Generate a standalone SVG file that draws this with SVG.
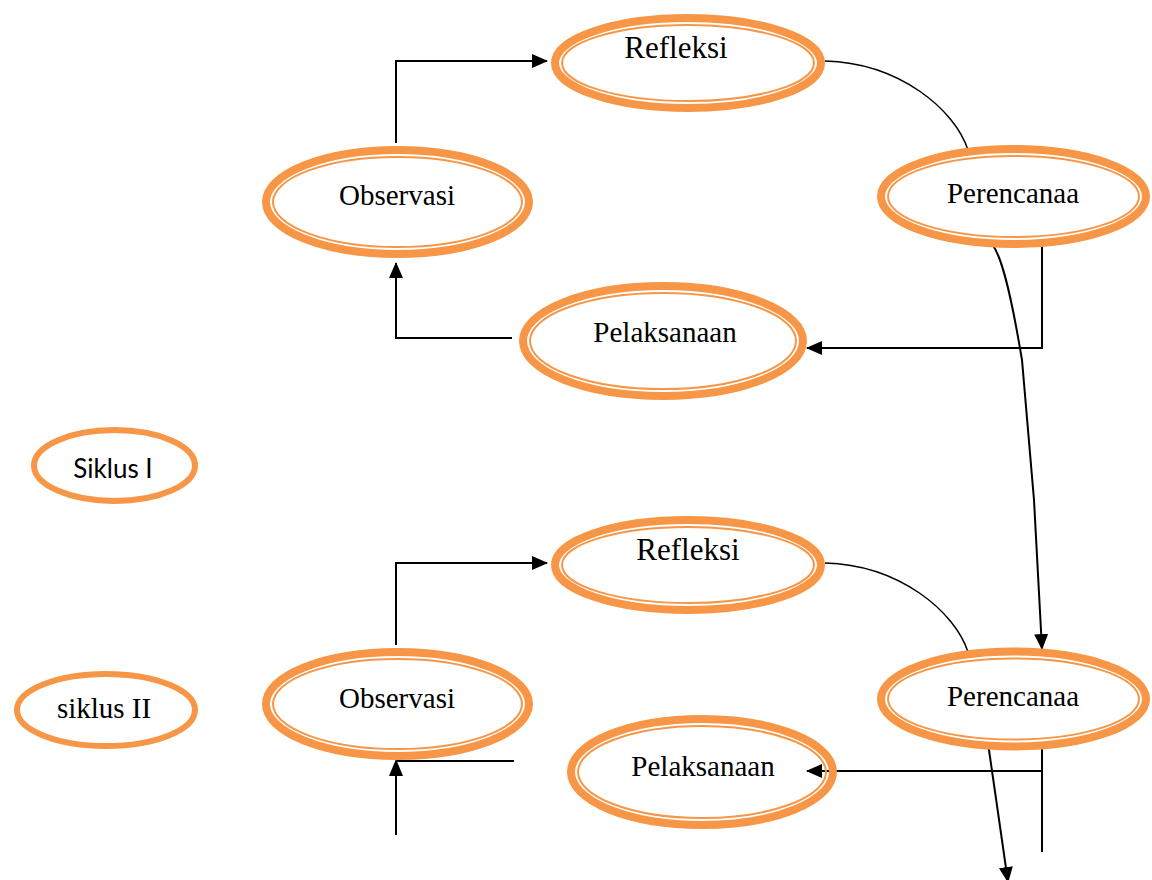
<svg xmlns="http://www.w3.org/2000/svg" width="1152" height="880" viewBox="0 0 1152 880">
<style>
.o{fill:none;stroke:#F79646;stroke-width:8}
.i{fill:none;stroke:#F79646;stroke-width:2}
.s{fill:none;stroke:#F79646;stroke-width:6}
.t{font-family:"Liberation Serif","Times New Roman",serif;font-size:29px;fill:#000;text-anchor:middle}
.r{font-size:31px}
.c{font-family:Lato,"Open Sans",sans-serif;font-size:26px;fill:#000;text-anchor:middle}
.l{fill:none;stroke:#000;stroke-width:2}
.th{fill:none;stroke:#000;stroke-width:1.5}
</style>
<defs>
<marker id="a" viewBox="0 0 16 14" refX="15" refY="7" markerWidth="16" markerHeight="14" markerUnits="userSpaceOnUse" orient="auto">
<path d="M0,0 L16,7 L0,14 Z" fill="#000"/>
</marker>
</defs>
<rect width="1152" height="880" fill="#fff"/>
<g id="connectors">
<path class="l" d="M396,143 V61 H547" marker-end="url(#a)"/>
<path class="th" d="M825,61 C900,63 955,110 968,150"/>
<path class="l" d="M1042,243 V348 H807" marker-end="url(#a)"/>
<path class="l" d="M512,338 H396 V263" marker-end="url(#a)"/>
<path class="l" d="M987,241 C1000,242 1012,300 1022,360 L1034,500 L1042,649" marker-end="url(#a)"/>
<path class="l" d="M396,645 V563 H547" marker-end="url(#a)"/>
<path class="th" d="M825,563 C900,565 955,612 968,652"/>
<path class="l" d="M1042,743 V852"/>
<path class="l" d="M1042,771 H807" marker-end="url(#a)"/>
<path class="l" d="M988,743 L1008,882" marker-end="url(#a)"/>
<path class="l" d="M396,835 V761"/>
<path class="l" d="M396,761 H514"/>
<path d="M389,776 L396,759 L403,776 Z" fill="#000"/>
</g>
<g id="refleksi1">
<ellipse class="o" cx="688" cy="63" rx="133" ry="45"/>
<ellipse class="i" cx="688" cy="63" rx="126" ry="38"/>
<text class="t r" x="676" y="58">Refleksi</text>
</g>
<g id="observasi1">
<ellipse class="o" cx="397.5" cy="202" rx="131.5" ry="52"/>
<ellipse class="i" cx="397.5" cy="202" rx="124.5" ry="45"/>
<text class="t" x="397" y="205">Observasi</text>
</g>
<g id="perencanaa1">
<ellipse class="o" cx="1013.5" cy="196.5" rx="132.5" ry="47.5"/>
<ellipse class="i" cx="1013.5" cy="196.5" rx="125.5" ry="40.5"/>
<text class="t" x="1013" y="203">Perencanaa</text>
</g>
<g id="pelaksanaan1">
<ellipse class="o" cx="663" cy="341" rx="140" ry="55"/>
<ellipse class="i" cx="663" cy="341" rx="133" ry="48"/>
<text class="t" x="665" y="342">Pelaksanaan</text>
</g>
<g id="siklus1">
<ellipse class="s" cx="114.5" cy="465.5" rx="80.5" ry="35.5"/>
<text class="c" x="113" y="478">Siklus I</text>
</g>
<g id="siklus2">
<ellipse class="s" cx="106" cy="710" rx="89" ry="36"/>
<text class="t" x="104" y="718">siklus II</text>
</g>
<g id="refleksi2">
<ellipse class="o" cx="688" cy="565" rx="133" ry="45"/>
<ellipse class="i" cx="688" cy="565" rx="126" ry="38"/>
<text class="t r" x="688" y="560">Refleksi</text>
</g>
<g id="observasi2">
<ellipse class="o" cx="397.5" cy="704" rx="131.5" ry="52"/>
<ellipse class="i" cx="397.5" cy="704" rx="124.5" ry="45"/>
<text class="t" x="397" y="708">Observasi</text>
</g>
<g id="perencanaa2">
<ellipse class="o" cx="1013.5" cy="699" rx="132.5" ry="47.5"/>
<ellipse class="i" cx="1013.5" cy="699" rx="125.5" ry="40.5"/>
<text class="t" x="1013" y="706">Perencanaa</text>
</g>
<g id="pelaksanaan2">
<ellipse class="o" cx="702" cy="772" rx="131" ry="53"/>
<ellipse class="i" cx="702" cy="772" rx="124" ry="46"/>
<text class="t" x="703" y="776">Pelaksanaan</text>
</g>
</svg>
